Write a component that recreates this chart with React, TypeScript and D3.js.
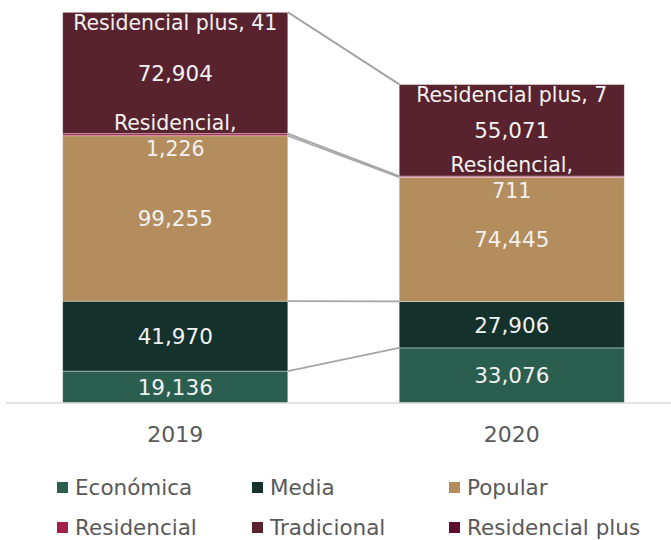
import React from "react";
import * as d3 from "d3";

const years = ["2019", "2020"];
const series = ["Económica", "Media", "Popular", "Residencial", "Tradicional", "Residencial plus"];
const economica = [19136, 33076];
const media = [41970, 27906];
const popular = [99255, 74445];
const residencial = [1226, 711];
const tradicional = [72904, 55071];
const residencialPlus = [41, 7];
const colors = ["#2a5e4e", "#14312b", "#b38d5d", "#a2204b", "#58232e", "#5e0f30"];

const W = 671;
const H = 540;
const FONT = "'DejaVu Sans', sans-serif";

export default function App() {
  const values = [economica, media, popular, residencial, tradicional, residencialPlus];
  const rows = years.map((yr, i) => {
    const r: any = { year: yr };
    series.forEach((s, k) => (r[s] = values[k][i]));
    return r;
  });
  const stacked = d3.stack().keys(series)(rows);

  const x = d3.scaleBand().domain(years).range([7, 680]).paddingInner(0).paddingOuter(0);
  const barW = x.bandwidth() * 0.669;
  const y = d3.scaleLinear().domain([0, 240000]).range([403, 3]);
  const fmt = d3.format(",");

  const bx = (yr: string) => (x(yr) as number) + (x.bandwidth() - barW) / 2;

  const connectors = stacked.map((layer) => ({ y1: y(layer[0][1]), y2: y(layer[1][1]) }));

  return (
    <svg width={W} height={H} style={{ position: "absolute", left: 0, top: 0, background: "#fff" }}>
      {stacked.map((layer, k) =>
        layer.map((d, i) => {
          const yr = years[i];
          return (
            <rect
              key={layer.key + yr}
              x={bx(yr)}
              y={y(d[1])}
              width={barW}
              height={Math.max(0, y(d[0]) - y(d[1]))}
              fill={colors[k]}
              stroke="#ffffff"
              strokeOpacity={0.5}
              strokeWidth={0.75}
            />
          );
        })
      )}
      {connectors.map((c, k) => (
        <line
          key={"c" + k}
          x1={bx(years[0]) + barW}
          x2={bx(years[1])}
          y1={c.y1}
          y2={c.y2}
          stroke="#a6a6a6"
          strokeWidth={1.75}
        />
      ))}
      <line x1={6} x2={W} y1={403} y2={403} stroke="#d9d9d9" strokeWidth={1.5} />
      {stacked.map((layer) =>
        layer.map((d, i) => {
          const yr = years[i];
          const cx = bx(yr) + barW / 2;
          const mid = (y(d[0]) + y(d[1])) / 2;
          const v = d[1] - d[0];
          if (layer.key === "Residencial plus") {
            return (
              <text key={"l" + layer.key + yr} x={cx} y={y(d[1]) + 18} textAnchor="middle" fill="#f2f2f2" fontFamily={FONT} fontSize={20.5}>
                {`Residencial plus, ${fmt(v)}`}
              </text>
            );
          }
          if (layer.key === "Residencial") {
            return (
              <text key={"l" + layer.key + yr} textAnchor="middle" fill="#f2f2f2" fontFamily={FONT} fontSize={20.5}>
                <tspan x={cx} y={mid - 4.5}>Residencial,</tspan>
                <tspan x={cx} y={mid + 21}>{fmt(v)}</tspan>
              </text>
            );
          }
          return (
            <text key={"l" + layer.key + yr} x={cx} y={mid + 8} textAnchor="middle" fill="#f2f2f2" fontFamily={FONT} fontSize={21.5}>
              {fmt(v)}
            </text>
          );
        })
      )}
      {years.map((yr) => (
        <text key={"y" + yr} x={bx(yr) + barW / 2} y={442} textAnchor="middle" fill="#595959" fontFamily={FONT} fontSize={22}>
          {yr}
        </text>
      ))}
      {series.map((s, k) => {
        const col = k % 3;
        const row = Math.floor(k / 3);
        const lx = [57, 252, 449][col];
        const base = [495, 535][row];
        return (
          <g key={"lg" + s}>
            <rect x={lx} y={base - 13} width={11} height={11} fill={colors[k]} />
            <text x={lx + 18} y={base} fill="#595959" fontFamily={FONT} fontSize={21.5}>
              {s}
            </text>
          </g>
        );
      })}
    </svg>
  );
}
